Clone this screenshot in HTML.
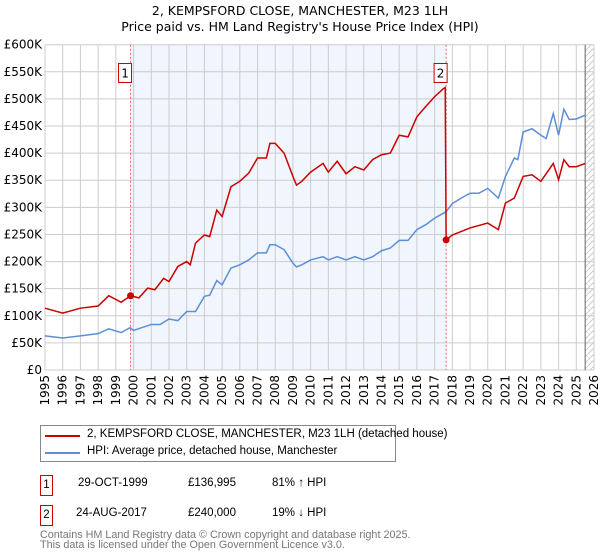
<!DOCTYPE html>
<html><head><meta charset="utf-8">
<style>
body{margin:0;background:#fff;font-family:"DejaVu Sans","Liberation Sans",sans-serif;}
#wrap{position:relative;width:600px;height:560px;overflow:hidden;}
.t{position:absolute;font-size:11.5px;color:#000;white-space:nowrap;font-family:"Liberation Sans",sans-serif;}
</style></head><body>
<div id="wrap">
<svg id="chart" width="600" height="410" style="position:absolute;left:0;top:0"></svg>
<div style="position:absolute;left:40px;top:425px;width:354px;height:35px;border:1px solid #888;">
  <div style="position:absolute;left:4px;top:9px;width:35px;height:2px;background:#cc0000"></div>
  <div class="t" style="left:46px;top:2px;font-size:11.5px">2, KEMPSFORD CLOSE, MANCHESTER, M23 1LH (detached house)</div>
  <div style="position:absolute;left:4px;top:26px;width:35px;height:2px;background:#5b8fd6"></div>
  <div class="t" style="left:46px;top:19px;font-size:11.5px">HPI: Average price, detached house, Manchester</div>
</div>
<div style="position:absolute;left:40px;top:475px;width:11px;height:19px;border:1px solid #cc0000;font-size:11.5px;text-align:center;line-height:19px;font-family:'Liberation Sans',sans-serif">1</div>
<div class="t" style="left:78px;top:477px">29-OCT-1999</div>
<div class="t" style="left:188px;top:477px">£136,995</div>
<div class="t" style="left:272px;top:477px">81% ↑ HPI</div>
<div style="position:absolute;left:40px;top:505px;width:11px;height:19px;border:1px solid #cc0000;font-size:11.5px;text-align:center;line-height:19px;font-family:'Liberation Sans',sans-serif">2</div>
<div class="t" style="left:76px;top:507px">24-AUG-2017</div>
<div class="t" style="left:188px;top:507px">£240,000</div>
<div class="t" style="left:272px;top:507px">19% ↓ HPI</div>
<div class="t" style="left:40px;top:530px;color:#777;font-size:10.8px;line-height:10px">Contains HM Land Registry data © Crown copyright and database right 2025.<br>This data is licensed under the Open Government Licence v3.0.</div>
<div class="t" style="left:0;width:600px;text-align:center;top:3px;font-size:12.5px;line-height:16px;font-family:'DejaVu Sans',sans-serif">2, KEMPSFORD CLOSE, MANCHESTER, M23 1LH<br>Price paid vs. HM Land Registry's House Price Index (HPI)</div>
</div>
<script>
const hpiYears=[1995,1996,1997,1998,1998.6,1999.3,1999.8,2000,2001,2001.5,2002,2002.5,2003,2003.5,2004,2004.3,2004.7,2005,2005.5,2006,2006.5,2007,2007.5,2007.7,2008,2008.5,2009,2009.2,2009.5,2010,2010.7,2011,2011.5,2012,2012.5,2013,2013.5,2014,2014.5,2015,2015.5,2016,2016.5,2017,2017.65,2018,2018.5,2019,2019.5,2020,2020.3,2020.6,2021,2021.5,2021.7,2022,2022.5,2023,2023.3,2023.7,2024,2024.3,2024.6,2025,2025.5];
const hpiValues=[63,59,63,67,76,69,78,73,84,84,94,91,108,108,136,138,165,157,188,194,203,216,216,231,231,222,197,190,194,203,209,203,209,203,209,203,209,220,225,239,239,259,268,280,292,307,317,326,326,335,326,317,357,391,388,439,445,433,427,473,433,481,462,463,470];
const propYears=[1995,1996,1997,1998,1998.6,1999.3,1999.83,2000.3,2000.8,2001.2,2001.7,2002,2002.5,2003,2003.2,2003.5,2004,2004.3,2004.7,2005,2005.5,2006,2006.5,2007,2007.5,2007.7,2008,2008.5,2009,2009.2,2009.5,2010,2010.7,2011,2011.5,2012,2012.5,2013,2013.5,2014,2014.5,2015,2015.5,2016,2016.5,2017,2017.5,2017.6,2017.65,2018,2019,2020,2020.6,2021,2021.5,2022,2022.5,2023,2023.7,2024,2024.3,2024.6,2025,2025.5];
const propValues=[114,105,114,118,137,125,137,133,151,148,169,163,191,200,194,234,249,246,295,283,338,348,363,391,391,418,418,400,357,341,348,365,381,365,385,362,375,369,388,397,400,433,430,467,486,504,519,521,240,249,262,271,259,308,317,357,360,348,381,351,388,375,375,381];
const saleYears=[1999.83,2017.65];
const saleValues=[137,240];
const saleLabels=["1","2"];
const yTicks=[0,50,100,150,200,250,300,350,400,450,500,550,600];
const xTickYears=[1995,1996,1997,1998,1999,2000,2001,2002,2003,2004,2005,2006,2007,2008,2009,2010,2011,2012,2013,2014,2015,2016,2017,2018,2019,2020,2021,2022,2023,2024,2025,2026];

const svg=document.getElementById('chart');const NS='http://www.w3.org/2000/svg';
const X0=45,X1=594,Y0=370,Y1=44.7;
const xs=y=>X0+(y-1995)/(2026-1995)*(X1-X0);
const ys=v=>Y0-v/600*(Y0-Y1);
function mk(t,a){const e=document.createElementNS(NS,t);for(const k in a)e.setAttribute(k,a[k]);svg.appendChild(e);return e;}
let e;
e=mk('rect',{x:xs(saleYears[0]),y:Y1,width:xs(saleYears[1])-xs(saleYears[0]),height:Y0-Y1,fill:'#eef3fc',opacity:0.8});


const defs=document.createElementNS(NS,'defs');defs.innerHTML='<pattern id="h" width="6" height="6" patternUnits="userSpaceOnUse"><path d="M0,6 L6,0" stroke="#ccc" stroke-width="1"/></pattern>';svg.appendChild(defs);
e=mk('rect',{x:xs(2025.5),y:Y1,width:X1-xs(2025.5),height:Y0-Y1,fill:'url(#h)'});


yTicks.forEach(v=>{
 e=mk('line',{x1:X0,x2:X1,y1:ys(v),y2:ys(v),stroke:'#ccc','stroke-width':1});
 
 
 e=mk('text',{x:X0-3,y:ys(v)+4,'text-anchor':'end','font-size':12,'font-family':'DejaVu Sans, Liberation Sans, sans-serif'});
 e.textContent=v===0?'£0':'£'+v+'K';
 
 
});
xTickYears.forEach(y=>{
 e=mk('line',{x1:xs(y),x2:xs(y),y1:Y1,y2:Y0,stroke:'#ccc','stroke-width':1});
 
 
 e=mk('text',{x:0,y:0,transform:`translate(${xs(y)+4},${Y0+5}) rotate(-90)`,'text-anchor':'end','font-size':12,'font-family':'DejaVu Sans, Liberation Sans, sans-serif'});
 e.textContent=y;
 
 
});
e=mk('line',{x1:xs(2025.5),x2:xs(2025.5),y1:Y1,y2:Y0,stroke:'#666','stroke-width':1});


saleYears.forEach((y,i)=>{
 e=mk('line',{x1:xs(y),x2:xs(y),y1:Y1,y2:Y0,stroke:'#e06666','stroke-width':1,'stroke-dasharray':'2,2'});
 
 
});
e=mk('polyline',{points:hpiYears.map((y,i)=>xs(y)+','+ys(hpiValues[i])).join(' '),fill:'none',stroke:'#5b8fd6','stroke-width':1.5});


e=mk('polyline',{points:propYears.map((y,i)=>xs(y)+','+ys(propValues[i])).join(' '),fill:'none',stroke:'#cc0000','stroke-width':1.5});


saleYears.forEach((y,i)=>{
 e=mk('circle',{cx:xs(y),cy:ys(saleValues[i]),r:3.5,fill:'#cc0000'});
 
 
 e=mk('rect',{x:xs(y)-12,y:63.5,width:13,height:19,fill:'#fff',stroke:'#cc0000'});
 
 
 e=mk('text',{x:xs(y)-5.5,y:77.5,'text-anchor':'middle','font-size':12,'font-family':'DejaVu Sans, sans-serif'});
 e.textContent=saleLabels[i];
 
 
});
</script>
</body></html>
